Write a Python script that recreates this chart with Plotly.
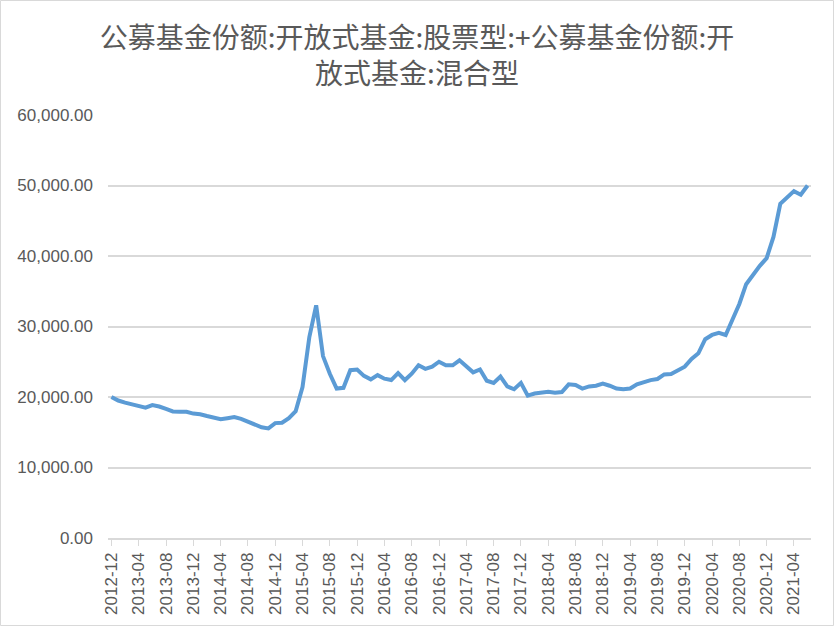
import plotly.graph_objects as go
import pandas as pd

months = [str(p) for p in pd.period_range("2012-12", "2021-06", freq="M")]

values = [
    20000, 19500, 19200, 19000, 18800, 18500, 18850, 18650, 18300, 17950,
    17900, 17900, 17650, 17550, 17300, 17100, 16850, 17000, 17150, 16900,
    16500, 16100, 15700, 15550, 16300, 16350, 17000, 18000, 21400, 28500,
    33000, 25800, 23300, 21200, 21300, 23800, 23900, 23000, 22500, 23100,
    22600, 22400, 23400, 22400, 23300, 24500, 24000, 24300, 25000, 24500,
    24500, 25200, 24300, 23500, 23900, 22300, 22000, 22900, 21500, 21100,
    22000, 20200, 20500, 20600, 20750, 20600, 20700, 21800, 21700, 21200,
    21500, 21600, 21900, 21600, 21200, 21100, 21200, 21800, 22100, 22400,
    22550, 23200, 23250, 23800, 24300, 25400, 26200, 28200, 28800, 29100,
    28800, 31000, 33200, 36000, 37400, 38600, 39700, 42700, 47400, 48300,
    49200, 48700, 50000,
]

tick_labels = months[::4]
y_ticks = [0, 10000, 20000, 30000, 40000, 50000, 60000]
title_text = "公募基金份额:开放式基金:股票型:+公募基金份额:开<br>放式基金:混合型"

fig = go.Figure()
fig.add_trace(go.Scatter(
    x=months, y=values, mode="lines",
    line=dict(color="#5B9BD5", width=4),
    hoverinfo="x+y",
))

L, R, T, B = 108, 23, 115, 88
W, H = 834, 626
pw, ph = W - L - R, H - T - B

fig.update_layout(
    width=W, height=H,
    margin=dict(l=L, r=R, t=T, b=B),
    paper_bgcolor="white", plot_bgcolor="white",
    showlegend=False,
    title=dict(
        text=title_text,
        x=0.5, xref="container", xanchor="center",
        y=1 - 48 / H, yref="container", yanchor="top",
        font=dict(family="Noto Sans CJK SC", size=28, color="#595959"),
    ),
    xaxis=dict(
        type="category",
        range=[-0.5, len(months) - 0.5],
        tickmode="array", tickvals=tick_labels, ticktext=tick_labels,
        tickangle=-90,
        tickfont=dict(family="Liberation Sans", size=17, color="#595959"),
        showgrid=False,
        showline=True, linecolor="#d9d9d9", linewidth=1.5,
        ticks="outside", ticklen=6, tickcolor="#d9d9d9", tickwidth=1,
        zeroline=False,
    ),
    yaxis=dict(
        range=[0, 60000],
        tickvals=y_ticks,
        tickformat=",.2f",
        tickfont=dict(family="Liberation Sans", size=17, color="#595959"),
        showgrid=True, gridcolor="#d9d9d9", gridwidth=1.5,
        showline=False, zeroline=False,
        ticks="", ticklabelstandoff=14,
    ),
)

# outer chart border
fig.add_shape(
    type="rect", xref="paper", yref="paper",
    x0=(0.5 - L) / pw, x1=(W - 0.5 - L) / pw,
    y0=-(B - 0.5) / ph, y1=1 + (T - 0.5) / ph,
    line=dict(color="#d9d9d9", width=1), layer="above",
)

fig.write_html("out.html")
